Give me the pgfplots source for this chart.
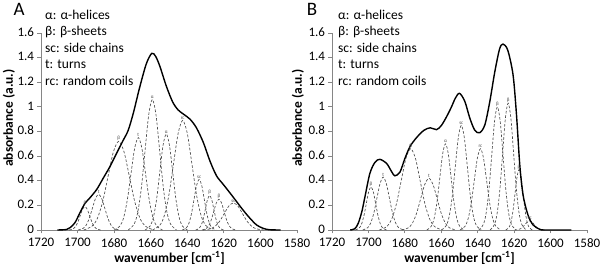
\documentclass[border=0pt]{standalone}
\usepackage{fontspec}
\setmainfont{Carlito}
\usepackage{pgfplots}
\pgfplotsset{compat=1.18}
\definecolor{axgray}{HTML}{868686}
\definecolor{dashgray}{HTML}{4A4A4A}
\pgfplotsset{
 myax/.style={
  scale only axis, height=197pt,
  x dir=reverse, xmin=1580, xmax=1720, ymin=0, ymax=1.6,
  xtick={1580,1600,1620,1640,1660,1680,1700,1720},
  ytick={0,0.2,0.4,0.6,0.8,1,1.2,1.4,1.6},
  axis lines=left, axis line style={draw=axgray, line width=0.8pt, -},
  tick style={draw=axgray, line width=0.8pt}, tick align=outside, major tick length=3.5pt,
  ticklabel style={font=\fontsize{13}{15}\selectfont, text=black},
  /pgf/number format/assume math mode=true,
  xticklabel style={/pgf/number format/1000 sep={}, yshift=-1.5pt},
  yticklabel style={yshift=1pt},
  clip=false,
 },
 comp/.style={dashgray, line width=0.65pt, dash pattern=on 2.6pt off 1.8pt, smooth},
 tot/.style={black, line width=1.4pt, smooth},
}
\newcommand{\lab}[3]{\node[font=\fontsize{5}{6}\selectfont, text=dashgray, above, inner sep=0.6pt] at (axis cs:#1,#2) {#3};}
\begin{document}
\begin{tikzpicture}[x=1pt,y=1pt]
\useasboundingbox (0,0) rectangle (600,270);
% ---------------- Panel A ----------------
\begin{axis}[myax, width=256pt, at={(41pt,40pt)}, anchor=south west]
\addplot[comp] coordinates {(1704.6,0)(1702.5,0.008)(1701.2,0.026)(1699.9,0.062)(1698.6,0.115)(1697.3,0.168)(1696,0.19)(1694.7,0.168)(1693.4,0.115)(1692.1,0.062)(1690.8,0.026)(1689.5,0.008)(1687.4,0)};
\addplot[comp] coordinates {(1699.7,0)(1697,0.013)(1695.3,0.039)(1693.6,0.094)(1691.9,0.176)(1690.2,0.256)(1688.5,0.29)(1686.8,0.256)(1685.1,0.176)(1683.4,0.094)(1681.7,0.039)(1680,0.013)(1677.3,0)};
\addplot[comp] coordinates {(1696.6,0)(1692,0.032)(1689.1,0.097)(1686.2,0.234)(1683.3,0.437)(1680.4,0.635)(1677.5,0.72)(1674.6,0.635)(1671.7,0.437)(1668.8,0.234)(1665.9,0.097)(1663,0.032)(1658.4,0)};
\addplot[comp] coordinates {(1680,0)(1676.8,0.033)(1674.8,0.101)(1672.8,0.244)(1670.8,0.455)(1668.8,0.662)(1666.8,0.75)(1664.8,0.662)(1662.8,0.455)(1660.8,0.244)(1658.8,0.101)(1656.8,0.033)(1653.6,0)};
\addplot[comp] coordinates {(1672.3,0)(1669.1,0.047)(1667.1,0.143)(1665.1,0.344)(1663.1,0.643)(1661.1,0.935)(1659.1,1.06)(1657.1,0.935)(1655.1,0.643)(1653.1,0.344)(1651.1,0.143)(1649.1,0.047)(1645.9,0)};
\addplot[comp] coordinates {(1663.05,0)(1660.25,0.034)(1658.5,0.106)(1656.75,0.253)(1655,0.473)(1653.25,0.688)(1651.5,0.78)(1649.75,0.688)(1648,0.473)(1646.25,0.253)(1644.5,0.106)(1642.75,0.034)(1639.95,0)};
\addplot[comp] coordinates {(1659,0)(1655,0.039)(1652.5,0.12)(1650,0.289)(1647.5,0.54)(1645,0.785)(1642.5,0.89)(1640,0.785)(1637.5,0.54)(1635,0.289)(1632.5,0.12)(1630,0.039)(1626,0)};
\addplot[comp] coordinates {(1642.74,0)(1640.5,0.018)(1639.1,0.055)(1637.7,0.133)(1636.3,0.249)(1634.9,0.362)(1633.5,0.41)(1632.1,0.362)(1630.7,0.249)(1629.3,0.133)(1627.9,0.055)(1626.5,0.018)(1624.26,0)};
\addplot[comp] coordinates {(1635.4,0)(1633.55,0.012)(1632.4,0.038)(1631.25,0.091)(1630.1,0.17)(1628.95,0.247)(1627.8,0.28)(1626.65,0.247)(1625.5,0.17)(1624.35,0.091)(1623.2,0.038)(1622.05,0.012)(1620.2,0)};
\addplot[comp] coordinates {(1631.94,0)(1629.7,0.011)(1628.3,0.034)(1626.9,0.081)(1625.5,0.152)(1624.1,0.221)(1622.7,0.25)(1621.3,0.221)(1619.9,0.152)(1618.5,0.081)(1617.1,0.034)(1615.7,0.011)(1613.46,0)};
\addplot[comp] coordinates {(1631.3,0)(1627.3,0.01)(1624.8,0.03)(1622.3,0.071)(1619.8,0.133)(1617.3,0.194)(1614.8,0.22)(1612.3,0.194)(1609.8,0.133)(1607.3,0.071)(1604.8,0.03)(1602.3,0.01)(1598.3,0)};
\addplot[tot] coordinates {(1711,0)(1706,0.004)(1704,0.02)(1701.4,0.06)(1698.7,0.14)(1696,0.215)(1693.2,0.262)(1689.5,0.33)(1686,0.42)(1682.3,0.515)(1678.6,0.625)(1675,0.73)(1672.3,0.81)(1669.5,0.95)(1666,1.16)(1662.4,1.35)(1659.4,1.435)(1657.3,1.41)(1655,1.33)(1651.5,1.17)(1648,1.04)(1645,0.975)(1642,0.94)(1638.5,0.9)(1635,0.83)(1631.2,0.71)(1627.6,0.56)(1624,0.44)(1620.3,0.37)(1616.6,0.3)(1613,0.23)(1609.4,0.16)(1605.7,0.095)(1602,0.04)(1598.4,0.013)(1595,0.002)(1589,0)};
\lab{1696}{0.19}{β}\lab{1688.5}{0.29}{t}\lab{1677.5}{0.72}{β}\lab{1666.8}{0.75}{t}
\lab{1659.1}{1.06}{α}\lab{1651.5}{0.78}{α}\lab{1642.5}{0.89}{rc}\lab{1633.5}{0.41}{sc}
\lab{1627.8}{0.28}{β}\lab{1622.7}{0.25}{β}\lab{1614.8}{0.22}{sc}
\end{axis}
% ---------------- Panel B ----------------
\begin{axis}[myax, width=255pt, at={(332pt,40pt)}, anchor=south west]
\addplot[comp] coordinates {(1707.18,0)(1705.1,0.015)(1703.8,0.047)(1702.5,0.114)(1701.2,0.212)(1699.9,0.309)(1698.6,0.35)(1697.3,0.309)(1696,0.212)(1694.7,0.114)(1693.4,0.047)(1692.1,0.015)(1690.02,0)};
\addplot[comp] coordinates {(1703.1,0)(1700.4,0.019)(1698.7,0.058)(1697,0.14)(1695.3,0.261)(1693.6,0.379)(1691.9,0.43)(1690.2,0.379)(1688.5,0.261)(1686.8,0.14)(1685.1,0.058)(1683.4,0.019)(1680.7,0)};
\addplot[comp] coordinates {(1694,0)(1689.8,0.029)(1687.2,0.089)(1684.6,0.214)(1682,0.4)(1679.4,0.582)(1676.8,0.66)(1674.2,0.582)(1671.6,0.4)(1669,0.214)(1666.4,0.089)(1663.8,0.029)(1659.6,0)};
\addplot[comp] coordinates {(1681.65,0)(1678.05,0.018)(1675.8,0.057)(1673.55,0.136)(1671.3,0.255)(1669.05,0.371)(1666.8,0.42)(1664.55,0.371)(1662.3,0.255)(1660.05,0.136)(1657.8,0.057)(1655.55,0.018)(1651.95,0)};
\addplot[comp] coordinates {(1667.93,0)(1665.45,0.031)(1663.9,0.095)(1662.35,0.227)(1660.8,0.425)(1659.25,0.618)(1657.7,0.7)(1656.15,0.618)(1654.6,0.425)(1653.05,0.227)(1651.5,0.095)(1649.95,0.031)(1647.47,0)};
\addplot[comp] coordinates {(1659.89,0)(1657.25,0.037)(1655.6,0.115)(1653.95,0.276)(1652.3,0.516)(1650.65,0.75)(1649,0.85)(1647.35,0.75)(1645.7,0.516)(1644.05,0.276)(1642.4,0.115)(1640.75,0.037)(1638.11,0)};
\addplot[comp] coordinates {(1649.72,0)(1647,0.029)(1645.3,0.089)(1643.6,0.214)(1641.9,0.4)(1640.2,0.582)(1638.5,0.66)(1636.8,0.582)(1635.1,0.4)(1633.4,0.214)(1631.7,0.089)(1630,0.029)(1627.28,0)};
\addplot[comp] coordinates {(1639.43,0)(1636.95,0.044)(1635.4,0.135)(1633.85,0.325)(1632.3,0.607)(1630.75,0.883)(1629.2,1.0)(1627.65,0.883)(1626.1,0.607)(1624.55,0.325)(1623,0.135)(1621.45,0.044)(1618.97,0)};
\addplot[comp] coordinates {(1633.2,0)(1630.8,0.045)(1629.3,0.139)(1627.8,0.334)(1626.3,0.625)(1624.8,0.909)(1623.3,1.03)(1621.8,0.909)(1620.3,0.625)(1618.8,0.334)(1617.3,0.139)(1615.8,0.045)(1613.4,0)};
\addplot[comp] coordinates {(1624.56,0)(1622.8,0.022)(1621.7,0.066)(1620.6,0.159)(1619.5,0.297)(1618.4,0.432)(1617.3,0.49)(1616.2,0.432)(1615.1,0.297)(1614,0.159)(1612.9,0.066)(1611.8,0.022)(1610.04,0)};
\addplot[comp] coordinates {(1619.75,0)(1617.75,0.003)(1616.5,0.01)(1615.25,0.024)(1614,0.045)(1612.75,0.066)(1611.5,0.075)(1610.25,0.066)(1609,0.045)(1607.75,0.024)(1606.5,0.01)(1605.25,0.003)(1603.25,0)};
\addplot[tot] coordinates {(1710,0)(1707.5,0.01)(1705.6,0.054)(1703.6,0.15)(1701.9,0.27)(1699.2,0.46)(1696.4,0.55)(1693.7,0.574)(1690,0.54)(1687.3,0.475)(1685.5,0.44)(1682.7,0.47)(1680,0.58)(1677.2,0.677)(1673.6,0.75)(1669.5,0.81)(1666,0.83)(1662.6,0.815)(1659.9,0.85)(1657.1,0.92)(1654.4,1.0)(1652.3,1.07)(1650,1.11)(1647.1,1.045)(1644.3,0.907)(1641.6,0.81)(1638.9,0.79)(1636.1,0.853)(1633.4,1.04)(1630.6,1.286)(1628,1.47)(1626.1,1.51)(1623.5,1.46)(1620.6,1.26)(1618.7,0.934)(1616.9,0.528)(1615.1,0.284)(1612.4,0.122)(1609.6,0.041)(1606,0.006)(1603,0)(1588.6,0)};
\lab{1698.6}{0.35}{β}\lab{1691.9}{0.43}{t}\lab{1676.8}{0.66}{β}\lab{1666.8}{0.42}{t}
\lab{1657.7}{0.70}{α}\lab{1649}{0.85}{sc}\lab{1638.5}{0.66}{rc}\lab{1629.2}{1.0}{β}
\lab{1623.3}{1.03}{β}\lab{1617.3}{0.49}{β}\lab{1611.5}{0.075}{sc}
\end{axis}
% ---------------- Texts ----------------
\node[font=\fontsize{19}{21}\selectfont] at (19,261) {A};
\node[font=\fontsize{19}{21}\selectfont] at (312,261) {B};
\foreach \xx in {45,338}{
 \node[anchor=west, font=\fontsize{13.5}{15}\selectfont, inner sep=0pt] at (\xx,255) {α: α-helices};
 \node[anchor=west, font=\fontsize{13.5}{15}\selectfont, inner sep=0pt] at (\xx,238.5) {β: β-sheets};
 \node[anchor=west, font=\fontsize{13.5}{15}\selectfont, inner sep=0pt] at (\xx,222) {sc: side chains};
 \node[anchor=west, font=\fontsize{13.5}{15}\selectfont, inner sep=0pt] at (\xx,205.5) {t: turns};
 \node[anchor=west, font=\fontsize{13.5}{15}\selectfont, inner sep=0pt] at (\xx,189) {rc: random coils};
}
\node[rotate=90, font=\bfseries\fontsize{13.5}{15}\selectfont] at (9,152) {absorbance (a.u.)};
\node[rotate=90, font=\bfseries\fontsize{13.5}{15}\selectfont] at (298,152) {absorbance (a.u.)};
\node[font=\bfseries\fontsize{13.5}{15}\selectfont] at (169.5,12) {wavenumber [cm\textsuperscript{-1}]};
\node[font=\bfseries\fontsize{13.5}{15}\selectfont] at (459.5,12) {wavenumber [cm\textsuperscript{-1}]};
\end{tikzpicture}
\end{document}
